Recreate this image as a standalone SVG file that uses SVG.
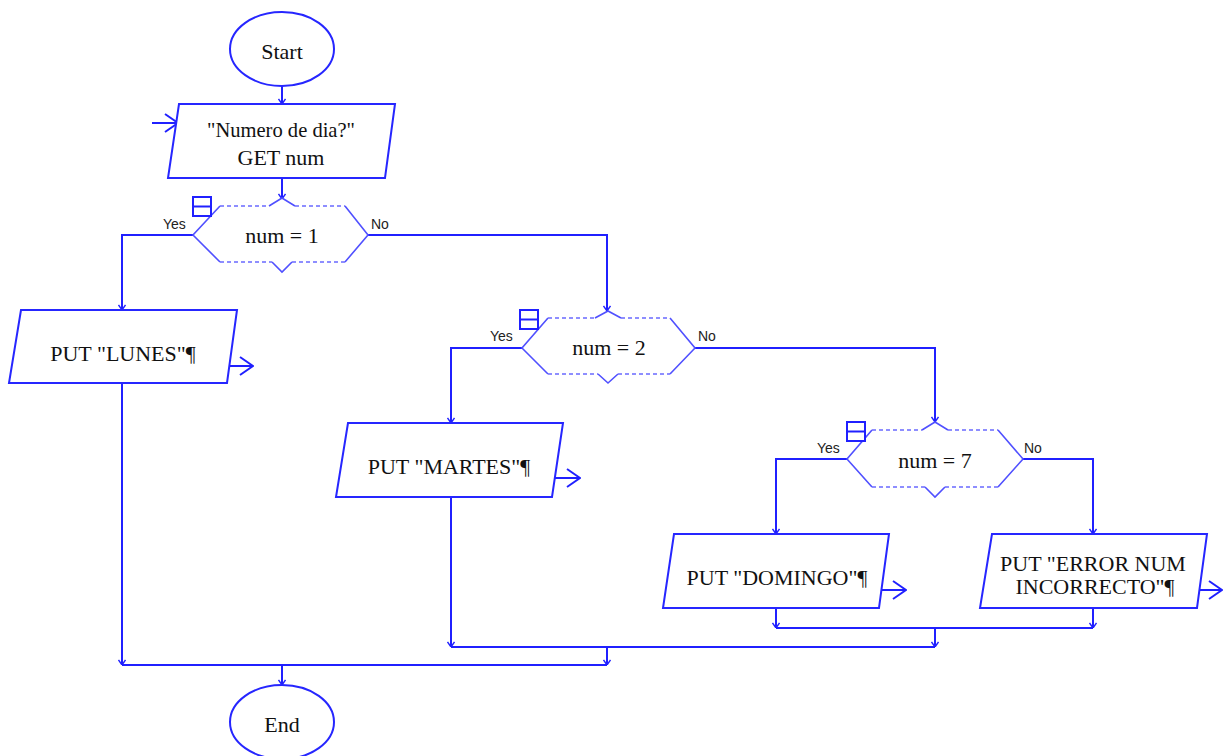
<svg xmlns="http://www.w3.org/2000/svg" width="1229" height="756" viewBox="0 0 1229 756">
  <style>
    .shape { fill: #ffffff; stroke: #2626ff; stroke-width: 2; }
    .dec { fill: none; stroke: #5050ff; stroke-width: 1.6; }
    .dash { fill: none; stroke: #6a6aff; stroke-width: 1.6; stroke-dasharray: 4 3; }
    .wire { fill: none; stroke: #2020ff; stroke-width: 2; }
    .icon { fill: #ffffff; stroke: #2020ff; stroke-width: 2; }
    .t { font-family: "Liberation Serif", "Times New Roman", serif; font-size: 22px; fill: #111111; text-anchor: middle; }
    .lbl { font-family: "Liberation Sans", Arial, sans-serif; font-size: 14px; fill: #222222; }
  </style>
  <defs>
    <marker id="tip" viewBox="0 0 8 8" refX="8" refY="4" markerWidth="8" markerHeight="8" markerUnits="userSpaceOnUse" orient="auto">
      <path d="M3,0.5 L8,4 L3,7.5" fill="none" stroke="#2020ff" stroke-width="1.4"/>
    </marker>
    <marker id="out" viewBox="0 0 16 20" refX="15" refY="10" markerWidth="16" markerHeight="20" markerUnits="userSpaceOnUse" orient="auto">
      <path d="M2,1 L15,10 L2,19" fill="none" stroke="#2020ff" stroke-width="2"/>
    </marker>
  </defs>

  <!-- connectors -->
  <g id="connectors">
    <path class="wire" d="M282,86 V104" marker-end="url(#tip)"/>
    <path class="wire" d="M152,123 H178" marker-end="url(#out)"/>
    <path class="wire" d="M282,178 V199" marker-end="url(#tip)"/>
    <!-- num = 1 -->
    <path class="wire" d="M193,235 H122 V310" marker-end="url(#tip)"/>
    <path class="wire" d="M368,235 H607 V311" marker-end="url(#tip)"/>
    <path class="wire" d="M227,366 H253" marker-end="url(#out)"/>
    <path class="wire" d="M122,383 V665" marker-end="url(#tip)"/>
    <!-- num = 2 -->
    <path class="wire" d="M522,348 H451 V423" marker-end="url(#tip)"/>
    <path class="wire" d="M695,348 H935 V422" marker-end="url(#tip)"/>
    <path class="wire" d="M552,478 H580" marker-end="url(#out)"/>
    <path class="wire" d="M451,497 V647" marker-end="url(#tip)"/>
    <!-- num = 7 -->
    <path class="wire" d="M847,459 H776 V534" marker-end="url(#tip)"/>
    <path class="wire" d="M1023,459 H1093 V534" marker-end="url(#tip)"/>
    <path class="wire" d="M879,590 H906" marker-end="url(#out)"/>
    <path class="wire" d="M1197,590 H1222" marker-end="url(#out)"/>
    <path class="wire" d="M776,608 V628" marker-end="url(#tip)"/>
    <path class="wire" d="M1093,608 V628" marker-end="url(#tip)"/>
    <!-- joins -->
    <path class="wire" d="M776,628 H1093"/>
    <path class="wire" d="M935,628 V647" marker-end="url(#tip)"/>
    <path class="wire" d="M451,647 H935"/>
    <path class="wire" d="M607,647 V665" marker-end="url(#tip)"/>
    <path class="wire" d="M122,665 H607"/>
    <path class="wire" d="M282,665 V685" marker-end="url(#tip)"/>
  </g>

  <g id="start">
    <ellipse class="shape" cx="282" cy="49" rx="52" ry="37"/>
    <text class="t" x="282" y="59">Start</text>
  </g>

  <g id="input">
    <polygon class="shape" points="179,104 395,104 385,178 168,178"/>
    <text class="t" x="281" y="137" textLength="148" lengthAdjust="spacingAndGlyphs">"Numero de dia?"</text>
    <text class="t" x="281" y="165">GET num</text>
  </g>

  <g id="decision1">
    <path class="dec" d="M220,206 L193,235 L220,262 M345,206 L368,235 L345,262 M269,206 L282,198 L295,206 M272,262 L282,272 L292,262"/>
    <path class="dash" d="M220,206 H269 M295,206 H345 M220,262 H272 M292,262 H345"/>
    <rect class="icon" x="193" y="197" width="18" height="19"/>
    <path class="icon" d="M193,206.5 H211"/>
    <text class="t" x="282" y="243">num = 1</text>
    <text class="lbl" x="163" y="229">Yes</text>
    <text class="lbl" x="371" y="229">No</text>
  </g>

  <g id="lunes">
    <polygon class="shape" points="21,310 237,310 227,383 9,383"/>
    <text class="t" x="123" y="361">PUT "LUNES"¶</text>
  </g>

  <g id="decision2">
    <path class="dec" d="M548,318 L522,348 L548,374 M670,318 L695,348 L670,374 M595,318 L608,311 L621,318 M598,374 L608,383 L618,374"/>
    <path class="dash" d="M548,318 H595 M621,318 H670 M548,374 H598 M618,374 H670"/>
    <rect class="icon" x="520" y="310" width="18" height="19"/>
    <path class="icon" d="M520,319.5 H538"/>
    <text class="t" x="609" y="355">num = 2</text>
    <text class="lbl" x="490" y="341">Yes</text>
    <text class="lbl" x="698" y="341">No</text>
  </g>

  <g id="martes">
    <polygon class="shape" points="348,423 563,423 552,497 336,497"/>
    <text class="t" x="449" y="474">PUT "MARTES"¶</text>
  </g>

  <g id="decision3">
    <path class="dec" d="M872,430 L847,459 L872,487 M998,430 L1023,459 L998,487 M922,430 L935,422 L948,430 M925,487 L935,497 L945,487"/>
    <path class="dash" d="M872,430 H922 M948,430 H998 M872,487 H925 M945,487 H998"/>
    <rect class="icon" x="847" y="422" width="18" height="19"/>
    <path class="icon" d="M847,431.5 H865"/>
    <text class="t" x="935" y="468">num = 7</text>
    <text class="lbl" x="817" y="453">Yes</text>
    <text class="lbl" x="1024" y="453">No</text>
  </g>

  <g id="domingo">
    <polygon class="shape" points="674,534 889,534 879,608 663,608"/>
    <text class="t" x="777" y="585">PUT "DOMINGO"¶</text>
  </g>

  <g id="error">
    <polygon class="shape" points="992,534 1207,534 1197,608 980,608"/>
    <text class="t" x="1093" y="571">PUT "ERROR NUM</text>
    <text class="t" x="1095" y="594">INCORRECTO"¶</text>
  </g>

  <g id="end">
    <ellipse class="shape" cx="282" cy="722" rx="52" ry="37"/>
    <text class="t" x="282" y="732">End</text>
  </g>
</svg>
